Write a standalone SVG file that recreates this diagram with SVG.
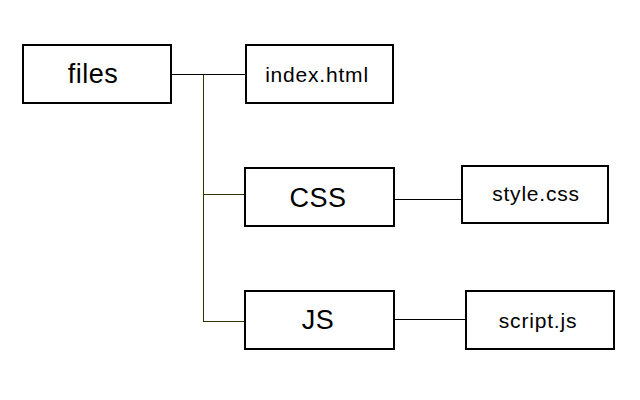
<svg xmlns="http://www.w3.org/2000/svg" width="640" height="400" viewBox="0 0 640 400">
<style>
.box{fill:#fff;stroke:#000;stroke-width:2}
.big{font-family:"Liberation Sans",Arial,sans-serif;font-size:27px;letter-spacing:0.5px;text-anchor:middle;fill:#000}
.small{font-family:"Liberation Sans",Arial,sans-serif;font-size:21px;letter-spacing:0.8px;text-anchor:middle;fill:#000}
.conn{fill:none;stroke:#000;stroke-width:1;shape-rendering:crispEdges}
.tree{fill:none;stroke:#333300;stroke-width:1;shape-rendering:crispEdges}
</style>
<rect width="640" height="400" fill="#fff"/>
<g id="connectors">
<line class="conn" x1="171" y1="74.5" x2="246" y2="74.5"/>
<polyline class="tree" points="203.5,74.5 203.5,321.5 245,321.5"/>
<line class="tree" x1="203.5" y1="194.5" x2="245" y2="194.5"/>
<line class="conn" x1="394" y1="199.5" x2="462" y2="199.5"/>
<line class="conn" x1="394" y1="319.5" x2="466" y2="319.5"/>
</g>
<g id="files">
<rect class="box" x="23" y="45" width="148" height="58"/>
<text class="big" x="93" y="83">files</text>
</g>
<g id="index">
<rect class="box" x="246" y="45" width="147" height="58"/>
<text class="small" x="317" y="82">index.html</text>
</g>
<g id="css">
<rect class="box" x="245" y="168" width="149" height="58"/>
<text class="big" x="318" y="207">CSS</text>
</g>
<g id="style">
<rect class="box" x="462" y="166" width="146" height="57"/>
<text class="small" x="536" y="201">style.css</text>
</g>
<g id="js">
<rect class="box" x="245" y="291" width="149" height="58"/>
<text class="big" x="318" y="329">JS</text>
</g>
<g id="script">
<rect class="box" x="466" y="291" width="148" height="58"/>
<text class="small" x="538" y="328">script.js</text>
</g>
</svg>
